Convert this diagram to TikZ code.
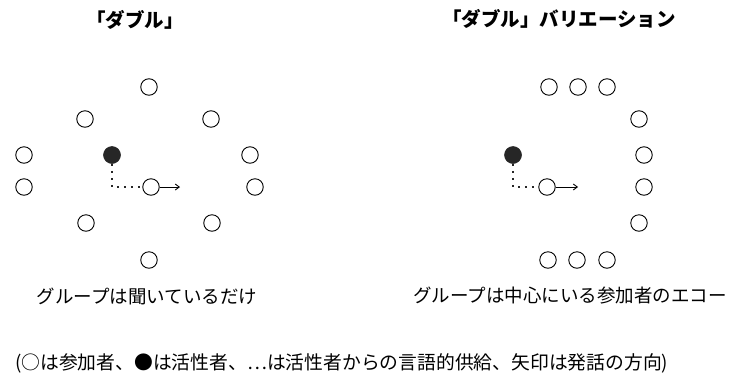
\documentclass[tikz,border=0pt]{standalone}
\usepackage{fontspec}
\newfontfamily\jp{Noto Sans CJK JP}
\usetikzlibrary{arrows.meta}
\tikzset{
  member/.style={circle,draw=black,line width=0.9pt,minimum size=16.5pt,inner sep=0pt},
  active/.style={circle,draw=black!85,fill=black!85,line width=0.6pt,minimum size=17pt,inner sep=0pt},
  supply/.style={line width=2pt,dash pattern=on 2pt off 5pt,black!85},
  speech/.style={line width=0.9pt,-{Straight Barb[length=4pt,width=6pt]}},
  titletext/.style={font=\jp\bfseries\fontsize{19.5}{22}\selectfont,inner sep=0pt},
  captext/.style={font=\jp\fontsize{18.5}{20}\selectfont,inner sep=0pt},
  foottext/.style={font=\jp\fontsize{18.8}{20}\selectfont,inner sep=0pt},
}
\begin{document}
\begin{tikzpicture}[x=1pt,y=-1pt]
\useasboundingbox (0,0) rectangle (733,381);
% titles
\node[titletext] (t1) at (135,20) {「ダブル」};
\node[titletext] (t2) at (559,19) {「ダブル」バリエーション};
% left diagram
\node[member] (l1) at (149,87) {};
\node[member] (l2) at (85,119) {};
\node[member] (l3) at (211,119) {};
\node[member] (l4) at (24,155) {};
\node[active] (la) at (112,155) {};
\node[member] (l5) at (250,155) {};
\node[member] (l6) at (24,187) {};
\node[member] (lc) at (151,187) {};
\node[member] (l7) at (255,187) {};
\node[member] (l8) at (86,223) {};
\node[member] (l9) at (212,223) {};
\node[member] (l10) at (149,260) {};
\coordinate (lk) at (112,187);
\coordinate (le) at (180,187);
\draw[supply] (la.south) -- (lk) -- (lc.west);
\draw[speech] (lc.east) -- (le);
\node[captext] (cap1) at (147,296) {グループは聞いているだけ};
% right diagram
\node[member] (t1a) at (549,87) {};
\node[member] (t2a) at (578,87) {};
\node[member] (t3a) at (607,87) {};
\node[member] (r1) at (639,119) {};
\node[member] (r2) at (644,155) {};
\node[member] (r3) at (644,187) {};
\node[member] (r4) at (639,223) {};
\node[member] (b1) at (548,260) {};
\node[member] (b2) at (577,260) {};
\node[member] (b3) at (607,260) {};
\node[active] (ra) at (513,155) {};
\node[member] (rc) at (547,187) {};
\coordinate (rk) at (513,187);
\coordinate (re) at (578,187);
\draw[supply] (ra.south) -- (rk) -- (rc.west);
\draw[speech] (rc.east) -- (re);
\node[captext] (cap2) at (570,296) {グループは中心にいる参加者のエコー};
% footnote
\node[foottext,anchor=west] (foot) at (15,363) {(○は参加者、●は活性者、⋯は活性者からの言語的供給、矢印は発話の方向)};
\end{tikzpicture}
\end{document}
